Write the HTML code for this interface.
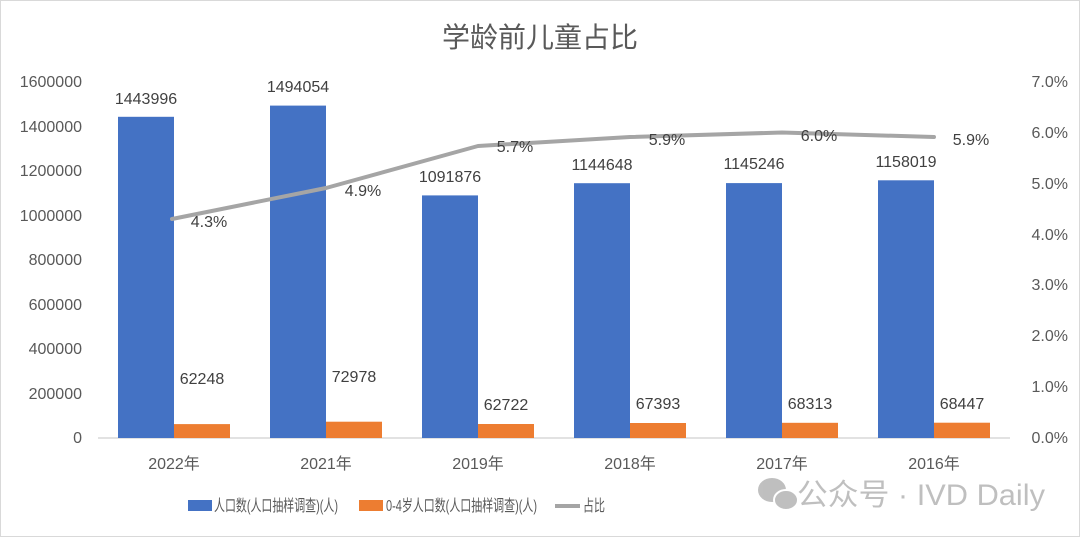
<!DOCTYPE html>
<html><head><meta charset="utf-8"><style>
html,body{margin:0;padding:0;background:#fff;}
svg{display:block;font-family:"Liberation Sans","Noto Sans CJK SC",sans-serif;}
</style></head><body>
<svg width="1080" height="537" viewBox="0 0 1080 537">
<rect x="0.5" y="0.5" width="1079" height="536" fill="#fff" stroke="#d9d9d9"/>
<text x="540" y="47" text-anchor="middle" font-size="28" fill="#595959" textLength="196" lengthAdjust="spacingAndGlyphs">学龄前儿童占比</text>
<g font-size="16" fill="#595959" text-anchor="end">
<text x="82" y="87">1600000</text><text x="82" y="132">1400000</text><text x="82" y="176">1200000</text>
<text x="82" y="221">1000000</text><text x="82" y="265">800000</text><text x="82" y="310">600000</text>
<text x="82" y="354">400000</text><text x="82" y="399">200000</text><text x="82" y="443">0</text>
</g>
<g font-size="16" fill="#595959" text-anchor="end">
<text x="1068" y="87">7.0%</text><text x="1068" y="138">6.0%</text><text x="1068" y="189">5.0%</text>
<text x="1068" y="240">4.0%</text><text x="1068" y="290">3.0%</text><text x="1068" y="341">2.0%</text>
<text x="1068" y="392">1.0%</text><text x="1068" y="443">0.0%</text>
</g>
<line x1="98" y1="438" x2="1010" y2="438" stroke="#d9d9d9" stroke-width="1.5"/>
<g fill="#4472c4">
<rect x="118" y="116.8" width="56" height="321.2"/>
<rect x="270" y="105.6" width="56" height="332.4"/>
<rect x="422" y="195.4" width="56" height="242.6"/>
<rect x="574" y="183.2" width="56" height="254.8"/>
<rect x="726" y="183.1" width="56" height="254.9"/>
<rect x="878" y="180.3" width="56" height="257.7"/>
</g>
<g fill="#ed7d31">
<rect x="174" y="424.1" width="56" height="13.9"/>
<rect x="326" y="421.7" width="56" height="16.3"/>
<rect x="478" y="424" width="56" height="14"/>
<rect x="630" y="423" width="56" height="15"/>
<rect x="782" y="422.8" width="56" height="15.2"/>
<rect x="934" y="422.7" width="56" height="15.3"/>
</g>
<polyline points="172,219 326,188 478,146 630,137 782,132.5 934,137" fill="none" stroke="#a5a5a5" stroke-width="4" stroke-linejoin="round" stroke-linecap="round"/>
<g font-size="16" fill="#404040" text-anchor="middle">
<text x="146" y="104">1443996</text><text x="298" y="92">1494054</text><text x="450" y="182">1091876</text>
<text x="602" y="170">1144648</text><text x="754" y="169">1145246</text><text x="906" y="167">1158019</text>
<text x="202" y="384">62248</text><text x="354" y="382">72978</text><text x="506" y="410">62722</text>
<text x="658" y="409">67393</text><text x="810" y="409">68313</text><text x="962" y="409">68447</text>
<text x="209" y="227">4.3%</text><text x="363" y="196">4.9%</text><text x="515" y="152">5.7%</text>
<text x="667" y="145">5.9%</text><text x="819" y="141">6.0%</text><text x="971" y="145">5.9%</text>
</g>
<g font-size="16" fill="#595959" text-anchor="middle">
<text x="174" y="469">2022年</text><text x="326" y="469">2021年</text><text x="478" y="469">2019年</text>
<text x="630" y="469">2018年</text><text x="782" y="469">2017年</text><text x="934" y="469">2016年</text>
</g>
<rect x="188" y="500" width="24" height="11" fill="#4472c4"/>
<text x="214" y="511" font-size="16" fill="#595959" textLength="124" lengthAdjust="spacingAndGlyphs">人口数(人口抽样调查)(人)</text>
<rect x="359" y="500" width="24" height="11" fill="#ed7d31"/>
<text x="386" y="511" font-size="16" fill="#595959" textLength="151" lengthAdjust="spacingAndGlyphs">0-4岁人口数(人口抽样调查)(人)</text>
<line x1="555" y1="506" x2="580" y2="506" stroke="#a5a5a5" stroke-width="4"/>
<text x="583" y="511" font-size="16" fill="#595959" textLength="22" lengthAdjust="spacingAndGlyphs">占比</text>
<g opacity="0.55">
<ellipse cx="772" cy="490" rx="14" ry="12" fill="#8c8c8c"/>
<ellipse cx="786" cy="500" rx="12" ry="10" fill="#8c8c8c" stroke="#fff" stroke-width="2"/>
<text x="797" y="505" font-size="30" fill="#8c8c8c" textLength="248" lengthAdjust="spacingAndGlyphs">公众号 · IVD Daily</text>
</g>
</svg>
</body></html>
